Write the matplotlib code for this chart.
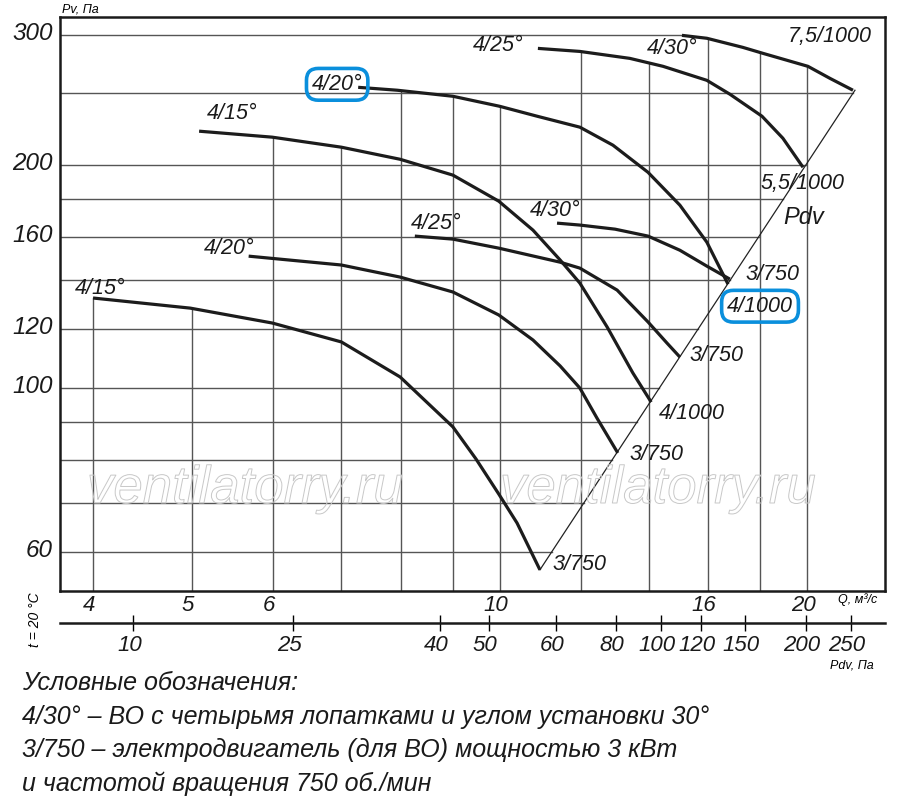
import numpy as np
import matplotlib
matplotlib.use("Agg")
import matplotlib.pyplot as plt
import matplotlib.patheffects as pe
from matplotlib.ticker import NullLocator
from matplotlib.transforms import ScaledTranslation

# Кривые Pv(Q): Q, м³/с и Pv, Па, точки
q_15_low = [4.00, 4.98, 5.99, 7.00, 7.99, 9.00, 9.48, 9.98, 10.40, 10.95]
p_15_low = [132.3, 128.2, 122.4, 115.4, 103.5, 88.6, 80.2, 71.9, 65.7, 56.8]

q_20_low = [5.68, 7.00, 7.99, 9.00, 9.98, 10.78, 11.46, 11.98, 12.45, 13.05]
p_20_low = [150.7, 146.6, 141.2, 134.8, 125.5, 116.1, 107.1, 100.0, 91.1, 81.7]

q_25_mid = [8.26, 9.00, 9.98, 11.46, 11.98, 13.03, 13.97, 14.58, 15.01]
p_25_mid = [160.4, 158.9, 154.5, 147.9, 145.2, 135.6, 122.8, 115.0, 110.1]

q_30_mid = [11.38, 11.98, 12.97, 13.97, 15.01, 15.95, 16.80]
p_30_mid = [167.0, 166.0, 163.9, 160.4, 153.5, 146.1, 140.3]

q_15_up = [5.08, 5.99, 7.00, 7.99, 9.00, 9.98, 10.78, 11.46, 11.98, 12.74, 13.50, 14.07]
p_15_up = [222.3, 218.2, 211.5, 203.7, 193.9, 178.8, 163.4, 148.9, 138.6, 120.9, 104.8, 95.7]

q_20_up = [7.27, 7.94, 9.00, 10.0, 10.88, 11.98, 12.91, 13.97, 15.01, 15.95, 16.73]
p_20_up = [254.8, 252.5, 247.8, 240.2, 232.9, 225.1, 212.8, 195.6, 176.6, 157.4, 138.1]

q_25_up = [10.90, 11.98, 13.41, 14.45, 15.95, 16.80, 18.06, 18.93, 19.81]
p_25_up = [287.6, 284.9, 278.8, 272.0, 260.4, 249.4, 232.9, 217.5, 198.7]

q_30_up = [15.08, 15.95, 17.30, 18.10, 20.03, 21.05, 22.17]
p_30_up = [299.5, 296.8, 288.5, 283.2, 272.0, 262.0, 252.5]

# линия Pdv
pdv_q = [10.95, 22.27]
pdv_p = [56.8, 252.5]

# подписи: угол у начала кривой, двигатель у конца
angle_labels = ["4/15°", "4/20°", "4/25°", "4/30°", "4/15°", "4/20°", "4/25°", "4/30°"]
motor_labels = ["3/750", "3/750", "3/750", "3/750", "4/1000", "4/1000", "5,5/1000", "7,5/1000"]

# сетка и шкалы
q_grid = [4, 5, 6, 7, 8, 9, 10, 12, 14, 16, 18, 20]
p_grid = [60, 70, 80, 90, 100, 120, 140, 160, 180, 200, 250, 300]
q_ticks = [4, 5, 6, 10, 16, 20]
p_ticks = [60, 100, 120, 160, 200, 300]
pdv_values = [10, 25, 40, 50, 60, 80, 100, 120, 150, 200, 250]
pdv_at_q = [4.38, 6.28, 8.74, 9.76, 11.35, 12.99, 14.38, 15.74, 17.38, 19.94, 22.07]

legend_lines = [
    "Условные обозначения:",
    "4/30° – ВО с четырьмя лопатками и углом установки 30°",
    "3/750 – электродвигатель (для ВО) мощностью 3 кВт",
    "и частотой вращения 750 об./мин",
]

curves = [(q_15_low, p_15_low), (q_20_low, p_20_low), (q_25_mid, p_25_mid),
          (q_30_mid, p_30_mid), (q_15_up, p_15_up), (q_20_up, p_20_up),
          (q_25_up, p_25_up), (q_30_up, p_30_up)]

FONT = ["Liberation Sans", "DejaVu Sans"]
BLUE = "#0a8fdc"
GRID = "#555555"

fig = plt.figure(figsize=(9, 8.07), dpi=100)
ax = fig.add_axes([60 / 900, 1 - 591 / 807, 825 / 900, 574 / 807])
ax.set_xscale("log")
ax.set_yscale("log")
xmin, xmax = 3.713, 23.83
ymin, ymax = 53.18, 317.1
ax.set_xlim(xmin, xmax)
ax.set_ylim(ymin, ymax)


def top_at(q):
    vals = []
    for cq, cp in curves:
        if cq[0] - 1e-6 <= q <= cq[-1] + 1e-6:
            vals.append(10 ** np.interp(np.log10(q), np.log10(cq), np.log10(cp)))
    return max(vals) if vals else ymax


# вертикальная сетка - до верхней кривой
for q in q_grid:
    ax.plot([q, q], [ymin, top_at(q)], color=GRID, lw=1.0, zorder=1)

# горизонтальная сетка - до линии Pdv
for p in p_grid:
    if p <= pdv_p[-1]:
        q_end = 10 ** np.interp(np.log10(p), np.log10(pdv_p), np.log10(pdv_q))
    else:
        q_end = q_30_up[0]
    ax.plot([xmin, q_end], [p, p], color=GRID, lw=1.0, zorder=1)

ax.plot(pdv_q, pdv_p, color="#222222", lw=0.9, zorder=2)

for cq, cp in curves:
    ax.plot(cq, cp, color="#1c1c1c", lw=2.3, solid_capstyle="butt",
            solid_joinstyle="round", zorder=3)

# смещения подписей в пикселях
angle_off = [(7, 10), (-19, 8), (21, 13), (-2, 13), (33, 18), (-21, 3), (-40, 3), (-10, -13)]
motor_off = [(40, 5), (39, -2), (37, 2), (43, 5), (41, -11), (32, -22), (0, -16), (-23, 54)]
boxed_angle = 5
boxed_motor = 5

for i, (cq, cp) in enumerate(curves):
    bbox = None
    if i == boxed_angle:
        bbox = dict(boxstyle="round,pad=0.25,rounding_size=0.55", fc="none", ec=BLUE, lw=2.6)
    ax.annotate(angle_labels[i], (cq[0], cp[0]), xytext=angle_off[i], textcoords="offset pixels",
                ha="center", va="center", fontsize=15.5, style="italic", family=FONT,
                color="#1a1a1a", bbox=bbox, zorder=5)
    bbox = None
    if i == boxed_motor:
        bbox = dict(boxstyle="round,pad=0.25,rounding_size=0.55", fc="none", ec=BLUE, lw=2.6)
    ax.annotate(motor_labels[i], (cq[-1], cp[-1]), xytext=motor_off[i], textcoords="offset pixels",
                ha="center", va="center", fontsize=15.5, style="italic", family=FONT,
                color="#1a1a1a", bbox=bbox, zorder=5)

ax.text(19.86, 170, "Pdv", ha="center", va="center", fontsize=17, style="italic",
        family=FONT, color="#1a1a1a")

for sp in ax.spines.values():
    sp.set_linewidth(1.8)
    sp.set_color("#1a1a1a")

ax.xaxis.set_minor_locator(NullLocator())
ax.yaxis.set_minor_locator(NullLocator())
ax.set_xticks(q_ticks)
ax.set_xticklabels([str(v) for v in q_ticks])
ax.set_yticks(p_ticks)
ax.set_yticklabels([str(v) for v in p_ticks])
ax.tick_params(axis="both", length=0)
ax.tick_params(axis="x", pad=3, labelsize=16)
ax.tick_params(axis="y", pad=5, labelsize=17.5)
for lab in ax.get_xticklabels() + ax.get_yticklabels():
    lab.set_fontstyle("italic")
    lab.set_family(FONT)
    lab.set_color("#1a1a1a")
for lab in ax.get_yticklabels():
    lab.set_transform(lab.get_transform() + ScaledTranslation(0, 4 / 100, fig.dpi_scale_trans))
for lab in ax.get_xticklabels():
    lab.set_transform(lab.get_transform() + ScaledTranslation(-4 / 100, 0, fig.dpi_scale_trans))

# шкала Pdv
ax2 = fig.add_axes([60 / 900, 1 - 623 / 807, 825 / 900, 0.0001])
ax2.set_xscale("log")
ax2.set_xlim(xmin, xmax)
ax2.set_yticks([])
for side in ["top", "left", "right"]:
    ax2.spines[side].set_visible(False)
ax2.spines["bottom"].set_linewidth(1.8)
ax2.spines["bottom"].set_color("#1a1a1a")
ax2.xaxis.set_minor_locator(NullLocator())
ax2.set_xticks(pdv_at_q)
ax2.set_xticklabels([str(v) for v in pdv_values])
ax2.tick_params(axis="x", direction="inout", length=11, width=1.0, pad=3, labelsize=16)
for lab in ax2.get_xticklabels():
    lab.set_fontstyle("italic")
    lab.set_family(FONT)
    lab.set_color("#1a1a1a")
    lab.set_transform(lab.get_transform() + ScaledTranslation(-4 / 100, 0, fig.dpi_scale_trans))

# водяные знаки
for x in [245 / 900, 658 / 900]:
    t = fig.text(x, 1 - 489 / 807, "ventilatorry.ru", ha="center", va="center", fontsize=38,
                 family=FONT, style="italic", color="none", zorder=0)
    t.set_path_effects([pe.Stroke(linewidth=0.7, foreground="#c8c8c8")])

fig.text(62 / 900, 1 - 10 / 807, "Pv, Па", ha="left", va="center", fontsize=9, style="italic", family=FONT)
fig.text(838 / 900, 1 - 600 / 807, "Q, м³/с", ha="left", va="center", fontsize=9, style="italic", family=FONT)
fig.text(830 / 900, 1 - 665 / 807, "Pdv, Па", ha="left", va="center", fontsize=9, style="italic", family=FONT)
fig.text(35 / 900, 1 - 620 / 807, "t = 20 °C", ha="center", va="center", fontsize=10, style="italic",
         family=FONT, rotation=90)

for i, line in enumerate(legend_lines):
    fig.text(22 / 900, 1 - (683 + i * 33.7) / 807, line, ha="left", va="center", fontsize=18,
             style="italic", family=FONT, color="#1a1a1a")

fig.savefig("out.png", dpi=100)
